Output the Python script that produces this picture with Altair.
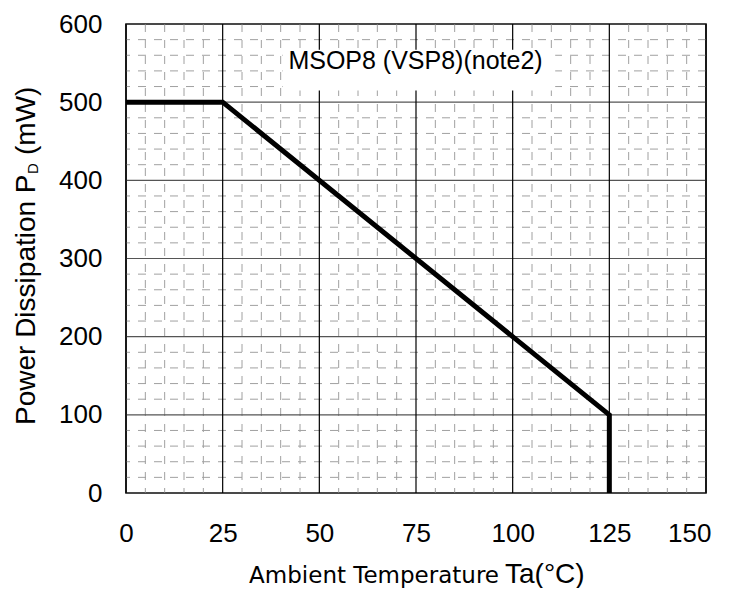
import altair as alt
import pandas as pd

# ---- data ----
temps = [0, 25, 125, 125]
power = [500, 500, 100, 0]

x_major = [0, 25, 50, 75, 100, 125, 150]
y_major = [0, 100, 200, 300, 400, 500, 600]
x_minor = [v for v in range(0, 151, 5) if v % 25 != 0]
y_minor = [v for v in range(0, 601, 20) if v % 100 != 0]

label_text = "MSOP8 (VSP8)(note2)"

line_df = pd.DataFrame({"t": temps, "p": power, "o": list(range(len(temps)))})
xmaj_df = pd.DataFrame({"v": x_major})
ymaj_df = pd.DataFrame({"v": y_major})
xmin_df = pd.DataFrame({"v": x_minor})
ymin_df = pd.DataFrame({"v": y_minor})

W, H = 580, 469
xs = alt.Scale(domain=[0, 150], nice=False, zero=False)
ys = alt.Scale(domain=[0, 600], nice=False, zero=False)

minor_col = "#a0a0a0"
dash = [8, 8]

vminor = alt.Chart(xmin_df).mark_rule(color=minor_col, strokeWidth=1, strokeDash=dash).encode(
    x=alt.X("v:Q", scale=xs), y=alt.value(0), y2=alt.value(H))
hminor = alt.Chart(ymin_df).mark_rule(color=minor_col, strokeWidth=1, strokeDash=dash,
                                      strokeDashOffset=4).encode(
    y=alt.Y("v:Q", scale=ys), x=alt.value(0), x2=alt.value(W))
hmajor = alt.Chart(ymaj_df).mark_rule(color="#555555", strokeWidth=1.2).encode(
    y=alt.Y("v:Q", scale=ys), x=alt.value(0), x2=alt.value(W))
vmajor = alt.Chart(xmaj_df).mark_rule(color="#000000", strokeWidth=1.2).encode(
    x=alt.X("v:Q", scale=xs), y=alt.value(0), y2=alt.value(H))

box = alt.Chart(pd.DataFrame({"a": [0]})).mark_rect(color="white").encode(
    x=alt.datum(40.5, scale=xs), x2=alt.datum(111),
    y=alt.datum(567, scale=ys), y2=alt.datum(515))

label = alt.Chart(pd.DataFrame({"a": [0]})).mark_text(
    text=label_text, font="Liberation Sans", fontSize=25, align="left", baseline="alphabetic",
    color="black").encode(x=alt.datum(42, scale=xs), y=alt.datum(543, scale=ys))

line = alt.Chart(line_df).mark_line(color="black", strokeWidth=5, strokeJoin="miter").encode(
    x=alt.X("t:Q", scale=xs,
            axis=alt.Axis(values=x_major, title=None, labelFont="Liberation Sans", labelFontSize=26,
                          labelColor="black", tickSize=0, domain=False, grid=False, labelPadding=27,
                          labelFlush=False,
                          labelAlign=alt.condition("datum.value == 150", alt.value("right"), alt.value("center")),
                          labelOffset=alt.condition("datum.value == 150", alt.value(5), alt.value(0)))),
    y=alt.Y("p:Q", scale=ys,
            axis=alt.Axis(values=y_major, title=None, labelFont="Liberation Sans", labelFontSize=26,
                          labelColor="black", tickSize=0, domain=False, grid=False, labelPadding=24,
                          labelFlush=False)),
    order="o:Q")

# axis titles as text (to allow subscript / mixed fonts)
yt1 = alt.Chart(pd.DataFrame({"a": [0]})).mark_text(
    text="Power Dissipation P", font="Liberation Sans", fontSize=28, angle=270, align="left",
    baseline="alphabetic", color="black").encode(x=alt.value(-91), y=alt.value(401))
yt2 = alt.Chart(pd.DataFrame({"a": [0]})).mark_text(
    text="D", font="Liberation Sans", fontSize=15, angle=270, align="left",
    baseline="alphabetic", color="black").encode(x=alt.value(-88), y=alt.value(150))
yt3 = alt.Chart(pd.DataFrame({"a": [0]})).mark_text(
    text="(mW)", font="Liberation Sans", fontSize=28, angle=270, align="left",
    baseline="alphabetic", color="black").encode(x=alt.value(-91), y=alt.value(131))

xt1 = alt.Chart(pd.DataFrame({"a": [0]})).mark_text(
    text="Ambient Temperature", font="DejaVu Sans", fontSize=23, align="right",
    baseline="alphabetic", color="black").encode(x=alt.value(373), y=alt.value(559))
xt2 = alt.Chart(pd.DataFrame({"a": [0]})).mark_text(
    text="Ta(°C)", font="Liberation Sans", fontSize=28, align="left",
    baseline="alphabetic", color="black").encode(x=alt.value(379), y=alt.value(559))

chart = alt.layer(vminor, hminor, hmajor, vmajor, box, label, line, yt1, yt2, yt3, xt1, xt2).properties(
    width=W, height=H,
    autosize=alt.AutoSizeParams(type="none"),
    padding={"left": 118, "top": 16, "right": 15, "bottom": 95},
    background="white",
).configure_view(stroke="black", strokeWidth=1.5)

chart.save("out.html", embed_options={"renderer": "svg", "actions": False})
